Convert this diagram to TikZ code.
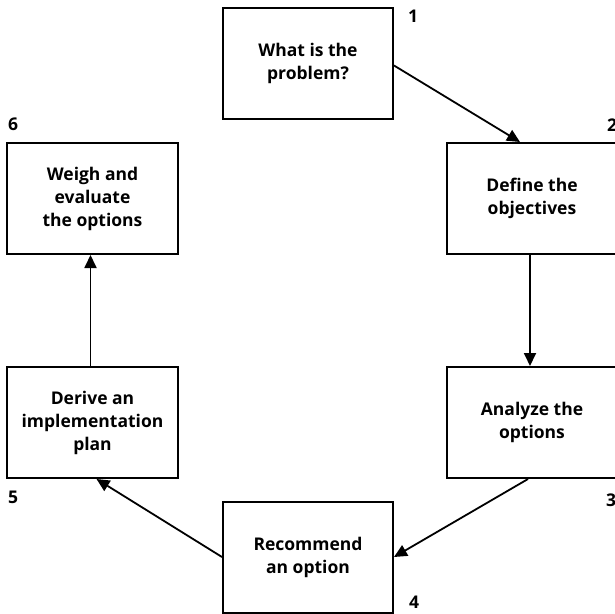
\documentclass[tikz,border=0pt]{standalone}
\usepackage{fontspec}
\newfontfamily\labfont{Open Sans}
\usetikzlibrary{arrows.meta}
\tikzset{
  stepbox/.style={draw, line width=2pt, minimum width=170pt, minimum height=111pt,
    inner sep=0pt, align=center, font=\labfont\bfseries\fontsize{17.5}{23}\selectfont},
  flow/.style={line width=1.8pt, -{Triangle[length=13pt,width=12pt]}},
  num/.style={font=\labfont\bfseries\fontsize{17.5}{18}\selectfont, inner sep=0pt}
}
\begin{document}
\begin{tikzpicture}[x=1pt,y=-1pt]
\useasboundingbox (0,0) rectangle (615,613);
\begin{scope}
\clip (0,0) rectangle (615,613);
\node[stepbox] (b1) at (308,63.5) {What is the\\problem?};
\node[stepbox] (b2) at (532,198.5) {Define the\\objectives};
\node[stepbox] (b3) at (532,422.5) {Analyze the\\options};
\node[stepbox] (b4) at (308,557) {Recommend\\an option};
\node[stepbox, minimum width=171pt] (b5) at (92.5,422.5) {Derive an\\implementation\\plan};
\node[stepbox, minimum width=171pt] (b6) at (92.5,198.5) {Weigh and\\evaluate\\the options};
\end{scope}

\node[num] (n1) at (413,16) {1};
\node[num] (n2) at (612,125) {2};
\node[num] (n3) at (611,500) {3};
\node[num] (n4) at (414,602) {4};
\node[num] (n5) at (13,497) {5};
\node[num] (n6) at (13,124) {6};

\draw[flow] ([yshift=-2pt]b1.east) -- ([xshift=-12pt]b2.north);
\draw[flow] ([xshift=-2pt]b2.south) -- ([xshift=-2pt]b3.north);
\draw[flow] ([xshift=-4pt]b3.south) -- (b4.east);
\draw[flow] (b4.west) -- ([xshift=4pt]b5.south);
\draw[flow] ([xshift=-2pt]b5.north) -- ([xshift=-2pt]b6.south);
\end{tikzpicture}
\end{document}
